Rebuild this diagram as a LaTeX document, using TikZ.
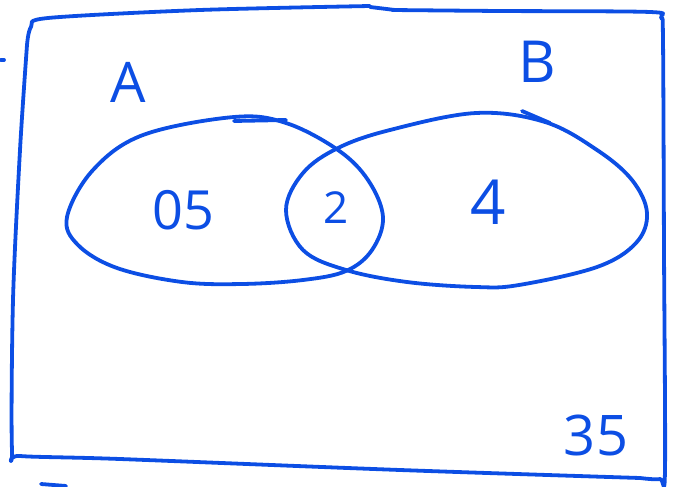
\documentclass[tikz,border=0pt]{standalone}
\usepackage{fontspec}
\setmainfont{Open Sans}
\definecolor{ink}{RGB}{12,78,228}
\begin{document}
\begin{tikzpicture}[x=1pt,y=-1pt,
  pen/.style={draw=ink,line width=3.8pt,line cap=round,line join=round},
  lbl/.style={text=ink,inner sep=0pt,anchor=center}]
\useasboundingbox (0,0) rectangle (675,487);
% universe rectangle
\draw[pen] plot[smooth,tension=0.5] coordinates {(27,45) (31,27) (48,18) (200,10) (370,6)};
\draw[pen] (370,7) -- (395,10);
\draw[pen] plot[smooth,tension=0.5] coordinates {(392,10) (500,11) (650,12) (661,18) (663,40) (664,250) (665,470) (660,479) (640,478)};
\draw[pen] plot[smooth,tension=0.5] coordinates {(640,478) (400,470) (120,459) (20,456) (12,450) (13,300) (20,150) (27,45)};
% stray marks
\draw[pen] (1,60) -- (4,60);
\draw[pen] (41,484) -- (66,486);
% ellipse A
\draw[pen] plot[smooth cycle,tension=0.6] coordinates {(67,217) (93,170) (143,135) (234,117) (286,123) (338,150) (368,180) (383,217) (372,250) (346,271) (303,280) (242,284) (182,282) (117,268) (78,245)};
\draw[pen] (234,121) -- (286,120);
% ellipse B
\draw[pen] plot[smooth cycle,tension=0.6] coordinates {(286,210) (303,173) (338,148) (390,130) (476,113) (545,122) (597,150) (632,180) (647,213) (636,243) (597,267) (519,285) (476,287) (407,282) (346,270) (303,250)};
\draw[pen] (522,111) -- (550,123);
% labels
\node[lbl,font=\fontsize{56}{60}\selectfont] (A) at (128,82) {A};
\node[lbl,font=\fontsize{58}{62}\selectfont] (B) at (537,62) {B};
\node[lbl,font=\fontsize{54}{58}\selectfont] (n05) at (183,210) {05};
\node[lbl,font=\fontsize{44}{48}\selectfont] (n2) at (336,208) {2};
\node[lbl,font=\fontsize{62}{66}\selectfont] (n4) at (488,202) {4};
\node[lbl,font=\fontsize{56}{60}\selectfont] (n35) at (596,435) {35};
\end{tikzpicture}
\end{document}
